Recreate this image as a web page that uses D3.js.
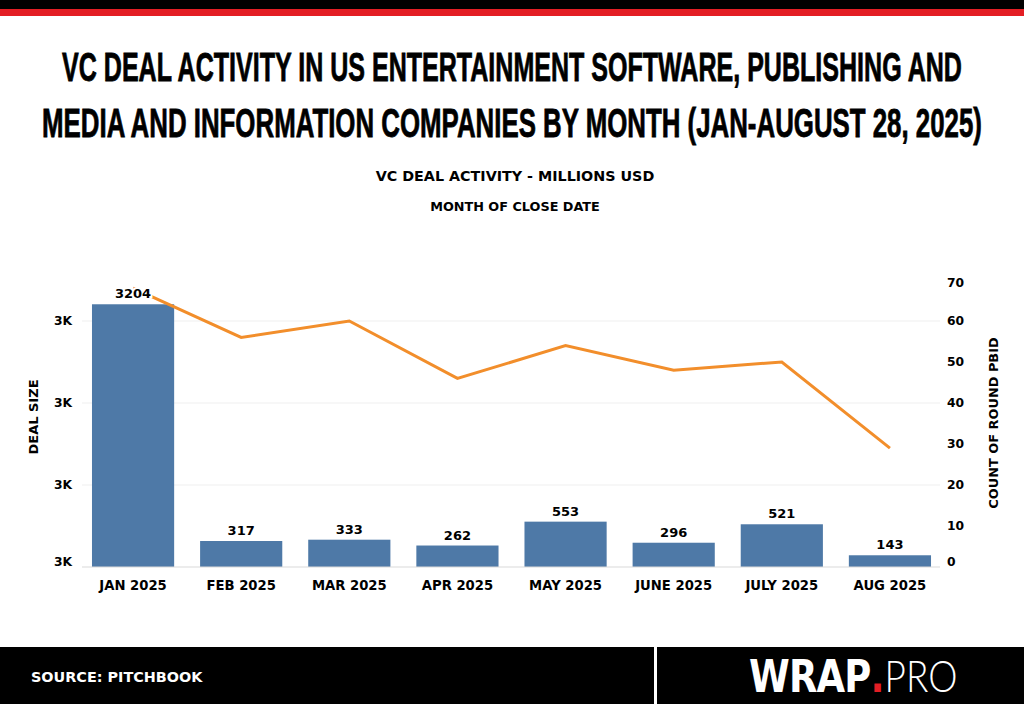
<!DOCTYPE html>
<html>
<head>
<meta charset="utf-8">
<script src="https://cdn.jsdelivr.net/npm/d3@7"></script>
<style>
  body { margin: 0; background: #fff; }
  svg { display: block; }
</style>
</head>
<body>
<div id="chart"></div>
<script>
// data
var months = ["JAN 2025", "FEB 2025", "MAR 2025", "APR 2025", "MAY 2025", "JUNE 2025", "JULY 2025", "AUG 2025"];
var dealSize = [3204, 317, 333, 262, 553, 296, 521, 143];
var roundCount = [68, 56, 60, 46, 54, 48, 50, 29];
var leftTicks = [0, 1000, 2000, 3000];
var leftTickLabels = ["3K", "3K", "3K", "3K"];
var rightTicks = [0, 10, 20, 30, 40, 50, 60, 70];

var W = 1024, H = 704;
var font = "'DejaVu Sans', sans-serif";

var svg = d3.select("#chart").append("svg")
  .attr("width", W)
  .attr("height", H);

svg.append("rect").attr("width", W).attr("height", H).attr("fill", "#fff");

// top stripes
svg.append("rect").attr("x", 0).attr("y", 0).attr("width", W).attr("height", 9).attr("fill", "#000");
svg.append("rect").attr("x", 0).attr("y", 9).attr("width", W).attr("height", 7).attr("fill", "#e31e24");

// title: narrow font squeezed sideways to the measured width
var titleLines = [
  {t: "VC DEAL ACTIVITY IN US ENTERTAINMENT SOFTWARE, PUBLISHING AND", y: 81, len: 900},
  {t: "MEDIA AND INFORMATION COMPANIES BY MONTH (JAN-AUGUST 28, 2025)", y: 137, len: 940}
];
svg.selectAll("text.title")
  .data(titleLines)
  .enter()
    .append("text")
    .attr("class", "title")
    .attr("text-anchor", "middle")
    .attr("font-family", "'Liberation Sans Narrow', sans-serif")
    .attr("font-weight", "bold")
    .attr("font-size", 41)
    .attr("stroke", "#000")
    .attr("stroke-width", 0.8)
    .text(function(d){ return d.t; })
    .attr("transform", function(d){
      var natural = this.getComputedTextLength();
      var sx = Math.min(1, d.len / natural);
      return "translate(" + (W / 2) + "," + d.y + ") scale(" + sx + ",1)";
    });

svg.append("text")
  .attr("x", 515).attr("y", 181)
  .attr("text-anchor", "middle")
  .attr("font-family", font).attr("font-weight", "bold").attr("font-size", 14.3)
  .text("VC DEAL ACTIVITY - MILLIONS USD");

svg.append("text")
  .attr("x", 515).attr("y", 211)
  .attr("text-anchor", "middle")
  .attr("font-family", font).attr("font-weight", "bold").attr("font-size", 12.8)
  .text("MONTH OF CLOSE DATE");

// scales
var x = d3.scaleBand()
  .domain(months)
  .range([79, 944])
  .paddingInner(0.24)
  .paddingOuter(0.12);

var yL = d3.scaleLinear().domain([0, 3500]).range([567, 280]);
var yR = d3.scaleLinear().domain([0, 70]).range([567, 280]);

// gridlines
svg.selectAll("line.grid")
  .data(leftTicks.slice(1))
  .enter()
    .append("line")
    .attr("x1", 82).attr("x2", 940)
    .attr("y1", function(d){ return yL(d); })
    .attr("y2", function(d){ return yL(d); })
    .attr("stroke", "#efefef")
    .attr("stroke-width", 1);

// bars
svg.selectAll("rect.bar")
  .data(dealSize)
  .enter()
    .append("rect")
    .attr("class", "bar")
    .attr("x", function(d, i){ return x(months[i]); })
    .attr("width", x.bandwidth())
    .attr("y", function(d){ return yL(d); })
    .attr("height", function(d){ return yL(0) - yL(d); })
    .attr("fill", "#4e79a7");

// baseline
svg.append("line")
  .attr("x1", 82).attr("x2", 940)
  .attr("y1", yL(0)).attr("y2", yL(0))
  .attr("stroke", "#d9d9d9").attr("stroke-width", 1.2);

// line for counts
var line = d3.line()
  .x(function(d, i){ return x(months[i]) + x.bandwidth() / 2; })
  .y(function(d){ return yR(d); });

svg.append("path")
  .datum(roundCount)
  .attr("d", line)
  .attr("fill", "none")
  .attr("stroke", "#f28e2b")
  .attr("stroke-width", 3);

// bar value labels
svg.selectAll("text.val")
  .data(dealSize)
  .enter()
    .append("text")
    .attr("x", function(d, i){ return x(months[i]) + x.bandwidth() / 2; })
    .attr("y", function(d){ return yL(d) - 6; })
    .attr("text-anchor", "middle")
    .attr("font-family", font).attr("font-weight", "bold").attr("font-size", 13)
    .attr("stroke", "#fff").attr("stroke-width", 4).attr("paint-order", "stroke")
    .attr("fill", "#000")
    .text(function(d){ return d; });

// month labels
svg.selectAll("text.month")
  .data(months)
  .enter()
    .append("text")
    .attr("x", function(d){ return x(d) + x.bandwidth() / 2; })
    .attr("y", 590)
    .attr("text-anchor", "middle")
    .attr("font-family", font).attr("font-weight", "bold").attr("font-size", 13.2)
    .text(function(d){ return d; });

// left axis
var leftAxis = svg.append("g")
  .attr("transform", "translate(82,0)")
  .call(d3.axisLeft(yL)
    .tickValues(leftTicks)
    .tickFormat(function(d, i){ return leftTickLabels[i]; })
    .tickSize(0)
    .tickPadding(10));
leftAxis.select(".domain").remove();
leftAxis.selectAll("text")
  .attr("font-family", font).attr("font-weight", "bold").attr("font-size", 12.3).attr("fill", "#000")
  .attr("dy", function(d){ return d === 0 ? "-0.15em" : "0.32em"; });

// right axis
var rightAxis = svg.append("g")
  .attr("transform", "translate(940,0)")
  .call(d3.axisRight(yR)
    .tickValues(rightTicks)
    .tickSize(0)
    .tickPadding(7));
rightAxis.select(".domain").remove();
rightAxis.selectAll("text")
  .attr("font-family", font).attr("font-weight", "bold").attr("font-size", 12.3).attr("fill", "#000")
  .attr("dy", function(d){ return d === 0 ? "-0.12em" : (d === 70 ? "0.55em" : "0.32em"); });

// axis titles
svg.append("text")
  .attr("transform", "translate(38,417) rotate(-90)")
  .attr("text-anchor", "middle")
  .attr("font-family", font).attr("font-weight", "bold").attr("font-size", 13)
  .text("DEAL SIZE");

svg.append("text")
  .attr("transform", "translate(998,423) rotate(-90)")
  .attr("text-anchor", "middle")
  .attr("font-family", font).attr("font-weight", "bold").attr("font-size", 12.9)
  .text("COUNT OF ROUND PBID");

// footer
svg.append("rect").attr("x", 0).attr("y", 647).attr("width", W).attr("height", H - 647).attr("fill", "#000");
svg.append("rect").attr("x", 654).attr("y", 647).attr("width", 3).attr("height", H - 647).attr("fill", "#fff");

svg.append("text")
  .attr("x", 31).attr("y", 682)
  .attr("font-family", font).attr("font-weight", "bold").attr("font-size", 14.4)
  .attr("fill", "#fff")
  .text("SOURCE: PITCHBOOK");

// logo as one text with three runs
var logo = svg.append("text")
  .attr("transform", "translate(749,692) scale(0.84,1)")
  .attr("font-size", 44)
  .attr("fill", "#fff");
logo.append("tspan")
  .attr("font-family", font).attr("font-weight", "bold")
  .attr("letter-spacing", -1)
  .text("WRAP");
logo.append("tspan")
  .attr("font-family", font).attr("font-weight", "bold")
  .attr("fill", "#e31e24")
  .text(".");
logo.append("tspan")
  .attr("font-family", "Lato, sans-serif").attr("font-weight", 300)
  .text("PRO");
</script>
</body>
</html>
